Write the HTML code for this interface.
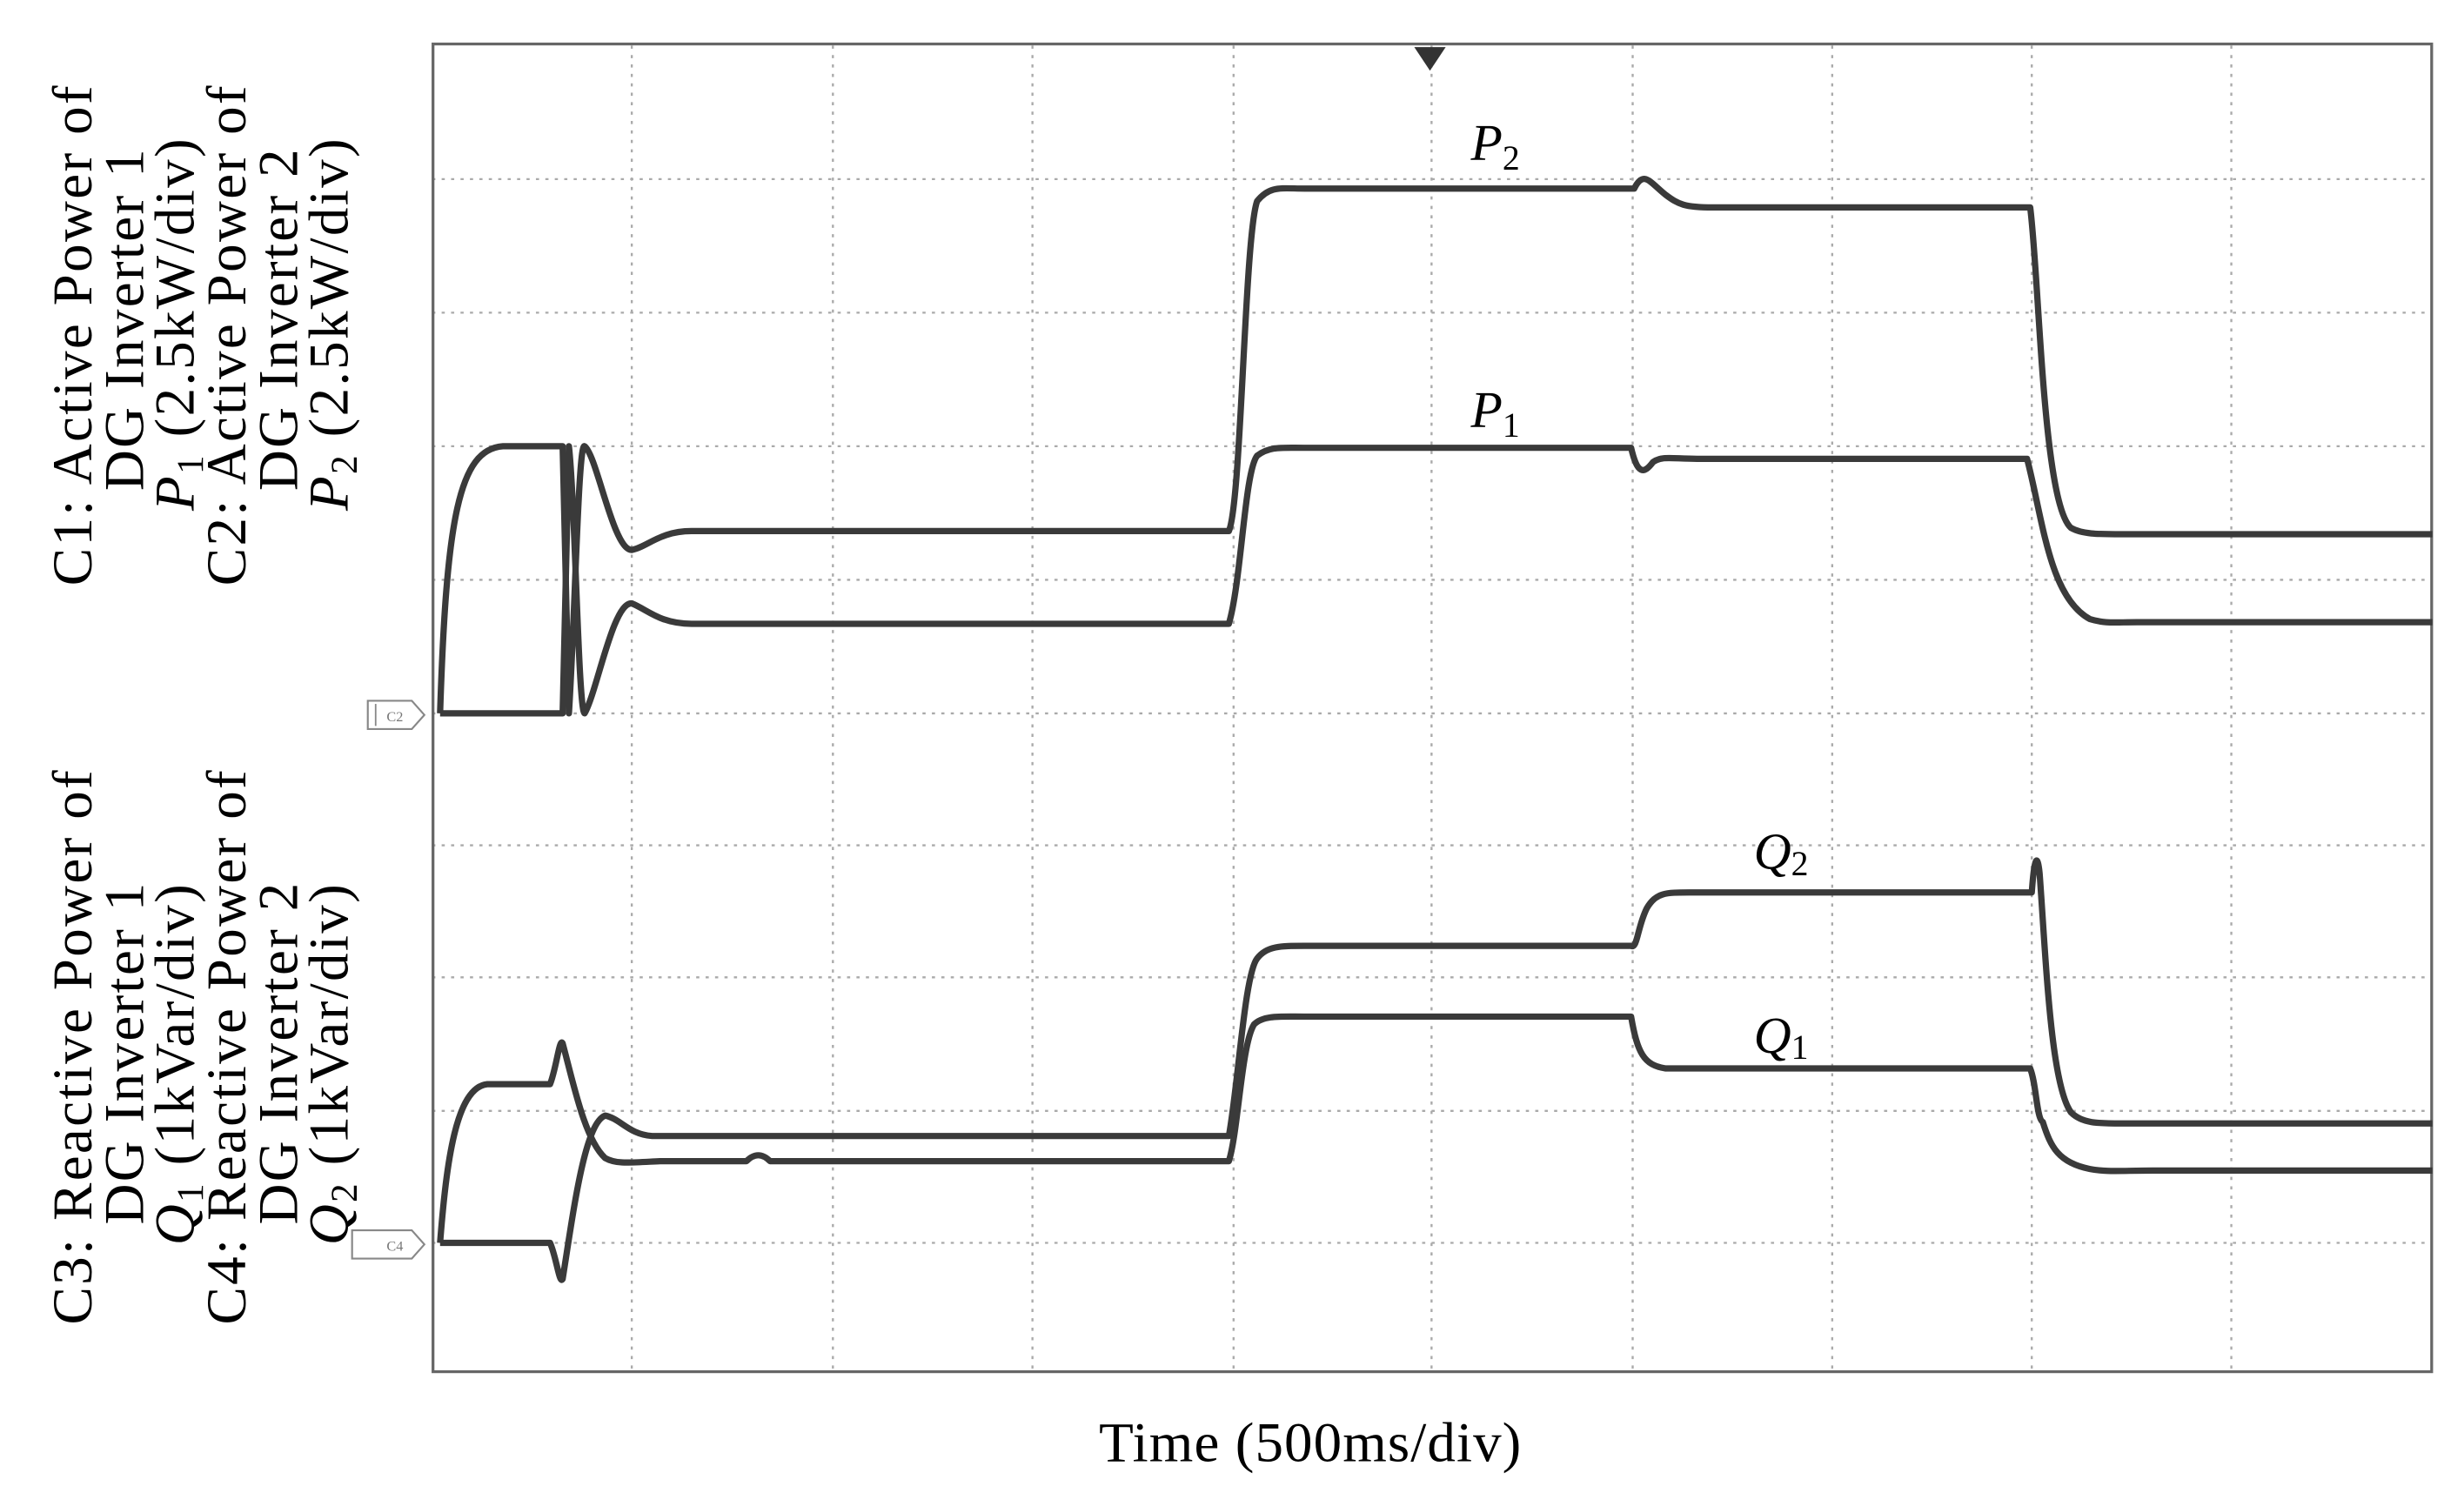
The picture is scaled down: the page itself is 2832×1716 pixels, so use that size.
<!DOCTYPE html>
<html><head><meta charset="utf-8"><style>
html,body{margin:0;padding:0;background:#fff;}
svg{display:block;}
text{font-family:"Liberation Serif",serif;fill:#000;}
</style></head><body>
<svg width="2832" height="1716" viewBox="0 0 1568 950.2" xmlns="http://www.w3.org/2000/svg">
<g stroke="#aaa" stroke-width="1.3" stroke-dasharray="2,4" fill="none">
<line x1="402" y1="29" x2="402" y2="873"/><line x1="530" y1="29" x2="530" y2="873"/>
<line x1="657" y1="29" x2="657" y2="873"/><line x1="785" y1="29" x2="785" y2="873"/>
<line x1="911" y1="29" x2="911" y2="873"/><line x1="1039" y1="29" x2="1039" y2="873"/>
<line x1="1166" y1="29" x2="1166" y2="873"/><line x1="1293" y1="29" x2="1293" y2="873"/>
<line x1="1420" y1="29" x2="1420" y2="873"/>
<line x1="275" y1="114" x2="1548" y2="114"/><line x1="275" y1="199" x2="1548" y2="199"/>
<line x1="275" y1="284" x2="1548" y2="284"/><line x1="275" y1="369" x2="1548" y2="369"/>
<line x1="275" y1="454" x2="1548" y2="454"/><line x1="275" y1="538" x2="1548" y2="538"/>
<line x1="275" y1="622" x2="1548" y2="622"/><line x1="275" y1="707" x2="1548" y2="707"/>
<line x1="275" y1="791" x2="1548" y2="791"/>
</g>
<rect x="275.5" y="28" width="1272" height="845" fill="none" stroke="#666" stroke-width="1.8"/>
<polygon points="900,30 920,30 910,45" fill="#333"/>
<g stroke="#3a3a3a" stroke-width="4" fill="none" stroke-linejoin="round">
<path d="M280,454 C284,330 292,286 320,284 L358,284 L362,454 C366,390 368,280 372,284 C380,290 390,350 402,350 C412,348 420,338 440,338 L782,338 C790,320 792,150 800,128 C808,118 815,120 830,120 L1040,120 C1046,108 1050,116 1060,124 C1068,130 1072,132 1090,132 L1292,132 C1298,180 1300,320 1318,336 C1325,340 1335,340 1350,340 L1548,340"/>
<path d="M280,454 L358,454 L362,284 C366,320 368,454 372,454 C380,440 390,383 402,384 C412,388 420,397 440,397 L782,397 C790,370 792,300 800,290 C808,284 815,285 830,285 L1038,285 C1042,302 1046,302 1052,294 C1058,290 1064,292 1080,292 L1290,292 C1300,330 1304,380 1330,394 C1340,397 1345,396 1360,396 L1548,396"/>
<path d="M280,791 C284,740 290,692 310,690 L350,690 C354,680 356,660 358,664 C365,690 372,725 385,737 C392,741 400,740 420,739 L475,739 C480,734 485,734 490,739 L782,739 C788,720 790,665 798,652 C804,646 815,647 830,647 L1038,647 C1042,670 1046,678 1060,680 L1292,680 C1296,690 1296,712 1300,714 C1305,730 1310,740 1330,744 C1340,746 1350,745 1370,745 L1548,745"/>
<path d="M280,791 L350,791 C354,800 356,818 358,814 C365,770 372,715 385,710 C395,712 400,722 415,723 L782,723 C788,690 792,620 800,610 C806,602 815,602 830,602 L1038,602 C1042,604 1042,590 1048,578 C1054,568 1060,568 1075,568 L1293,568 C1295,540 1297,546 1298,556 C1302,610 1305,690 1318,708 C1325,715 1335,715 1350,715 L1548,715"/>
</g>
<g stroke="#888" stroke-width="1.2" fill="#fff">
<path d="M234,446 L262,446 L270,455 L262,464 L234,464 Z"/>
<path d="M224,783 L262,783 L270,792 L262,801 L224,801 Z"/>
</g>
<line x1="239" y1="448" x2="239" y2="462" stroke="#888" stroke-width="1"/>
<text x="246" y="459" font-size="9" style="fill:#777">C2</text>
<text x="246" y="796" font-size="9" style="fill:#777">C4</text>
<text x="936" y="102" font-size="33" font-style="italic">P<tspan font-size="22" font-style="normal" dy="6">2</tspan></text>
<text x="936" y="272" font-size="33" font-style="italic">P<tspan font-size="22" font-style="normal" dy="6">1</tspan></text>
<text x="1116" y="553" font-size="33" font-style="italic">Q<tspan font-size="22" font-style="normal" dy="4">2</tspan></text>
<text x="1116" y="670" font-size="33" font-style="italic">Q<tspan font-size="22" font-style="normal" dy="4">1</tspan></text>
<g font-size="36" text-anchor="middle" letter-spacing="1.3">
<text transform="translate(58,213) rotate(-90)">C1: Active Power of</text>
<text transform="translate(91,203) rotate(-90)">DG Inverter 1</text>
<text transform="translate(123,206) rotate(-90)"><tspan font-style="italic">P</tspan><tspan font-size="24" dy="6">1</tspan><tspan dy="-6"> (2.5kW/div)</tspan></text>
<text transform="translate(156,213) rotate(-90)">C2: Active Power of</text>
<text transform="translate(189,203) rotate(-90)">DG Inverter 2</text>
<text transform="translate(221,206) rotate(-90)"><tspan font-style="italic">P</tspan><tspan font-size="24" dy="6">2</tspan><tspan dy="-6"> (2.5kW/div)</tspan></text>
<text transform="translate(58,666) rotate(-90)">C3: Reactive Power of</text>
<text transform="translate(91,670) rotate(-90)">DG Inverter 1</text>
<text transform="translate(123,677) rotate(-90)"><tspan font-style="italic">Q</tspan><tspan font-size="24" dy="6">1</tspan><tspan dy="-6"> (1kVar/div)</tspan></text>
<text transform="translate(156,666) rotate(-90)">C4: Reactive Power of</text>
<text transform="translate(189,670) rotate(-90)">DG Inverter 2</text>
<text transform="translate(221,677) rotate(-90)"><tspan font-style="italic">Q</tspan><tspan font-size="24" dy="6">2</tspan><tspan dy="-6"> (1kVar/div)</tspan></text>
</g>
<text x="834" y="930" font-size="36" text-anchor="middle" letter-spacing="0.6">Time (500ms/div)</text>
</svg>
</body></html>
